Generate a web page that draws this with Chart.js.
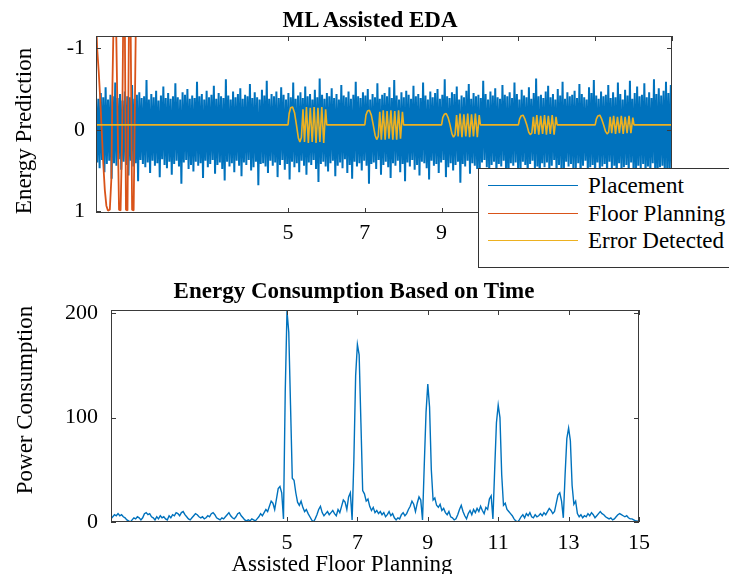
<!DOCTYPE html>
<html>
<head>
<meta charset="utf-8">
<script src="https://cdn.jsdelivr.net/npm/chart.js@4.4.1/dist/chart.umd.min.js"></script>
<style>
  body { margin: 0; background: #fff; overflow: hidden; }
  #wrap { position: relative; width: 729px; height: 574px; overflow: hidden; font-family: 'Liberation Serif', 'Times New Roman', serif; color: #000; }
  canvas { position: absolute; left: 0; top: 0; }
  .txt { position: absolute; white-space: nowrap; line-height: 1; transform: translate(-50%, -50%); }
  .ttl { font-weight: bold; font-size: 23px; }
  .lbl { font-size: 23px; }
  .rot { transform: translate(-50%, -50%) rotate(-90deg); }
  #legend { position: absolute; left: 478px; top: 168px; width: 270px; height: 100px; background: #fff; border: 1px solid #333; box-sizing: border-box; }
  .lg-row { position: absolute; left: 0; height: 24px; width: 100%; }
  .lg-line { position: absolute; left: 9px; top: 11px; width: 90px; height: 0; border-top: 1.5px solid; }
  .lg-text { position: absolute; left: 109px; top: 0; font-size: 23px; line-height: 24px; white-space: nowrap; }
</style>
</head>
<body>
<div id="wrap">
  <canvas id="chartTop" width="729" height="574"></canvas>
  <canvas id="chartBottom" width="729" height="574"></canvas>
  <div class="txt ttl" style="left:370px; top:19px;">ML Assisted EDA</div>
  <div class="txt lbl rot" style="left:23px; top:131px;">Energy Prediction</div>
  <div class="txt ttl" style="left:354px; top:290px;">Energy Consumption Based on Time</div>
  <div class="txt lbl rot" style="left:24px; top:400px;">Power Consumption</div>
  <div class="txt lbl" style="left:342px; top:563px;">Assisted Floor Planning</div>
  <div id="legend"></div>
</div>
<script>
// ---- top panel: ML Assisted EDA ----
const seriesNames = ["Placement", "Floor Planning", "Error Detected"];
const seriesColors = ["#0072BD", "#D95319", "#EDB120"];

// placement signal, alternating upper / lower samples
const placementUp = [
  -0.42,-0.38,-0.45,-0.40,-0.52,-0.37,-0.43,-0.41,-0.58,-0.39,
  -0.44,-0.36,-0.47,-0.41,-0.40,-0.55,-0.38,-0.43,-0.46,-0.39,
  -0.41,-0.61,-0.37,-0.44,-0.40,-0.48,-0.36,-0.42,-0.53,-0.39,
  -0.45,-0.38,-0.41,-0.57,-0.40,-0.37,-0.46,-0.43,-0.50,-0.38,
  -0.42,-0.39,-0.59,-0.41,-0.44,-0.37,-0.48,-0.40,-0.43,-0.54,
  -0.38,-0.45,-0.41,-0.39,-0.62,-0.42,-0.37,-0.47,-0.40,-0.44,
  -0.51,-0.38,-0.43,-0.41,-0.56,-0.39,-0.46,-0.40,-0.37,-0.49,
  -0.42,-0.60,-0.38,-0.44,-0.41,-0.47,-0.39,-0.52,-0.43,-0.37,
  -0.45,-0.40,-0.58,-0.38,-0.42,-0.46,-0.39,-0.53,-0.41,-0.44,
  -0.37,-0.49,-0.40,-0.63,-0.43,-0.38,-0.45,-0.41,-0.51,-0.39,
  -0.44,-0.37,-0.55,-0.42,-0.40,-0.47,-0.38,-0.43,-0.59,-0.41,
  -0.39,-0.46,-0.42,-0.50,-0.37,-0.44,-0.40,-0.57,-0.38,-0.43,
  -0.45,-0.41,-0.52,-0.39,-0.61,-0.42,-0.37,-0.46,-0.40,-0.48,
  -0.43,-0.38,-0.54,-0.41,-0.44,-0.39,-0.58,-0.42,-0.37,-0.47,
  -0.40,-0.45,-0.50,-0.38,-0.43,-0.62,-0.41,-0.39,-0.46,-0.44,
  -0.53,-0.37,-0.42,-0.40,-0.48,-0.56,-0.38,-0.45,-0.41,-0.43,
  -0.39,-0.60,-0.44,-0.37,-0.47,-0.42,-0.51,-0.40,-0.38,-0.55,
  -0.43,-0.41,-0.46,-0.39,-0.58,-0.44,-0.37,-0.49,-0.42,-0.40,
  -0.52,-0.38,-0.45,-0.63,-0.41,-0.43,-0.39,-0.47,-0.54,-0.40,
  -0.44,-0.37,-0.50,-0.42,-0.59,-0.38,-0.46,-0.41,-0.43,-0.48,
  -0.39,-0.56,-0.44,-0.40,-0.37,-0.52,-0.45,-0.61,-0.42,-0.38,
  -0.47,-0.41,-0.43,-0.55,-0.39,-0.46,-0.40,-0.58,-0.44,-0.37,
  -0.49,-0.42,-0.60,-0.38,-0.45,-0.53,-0.41,-0.43,-0.57,-0.40,
  -0.46,-0.39,-0.62,-0.44,-0.51,-0.42,-0.48,-0.59,-0.45,-0.55
];
const placementDown = [
  0.40,0.47,0.37,0.52,0.42,0.38,0.60,0.41,0.44,0.36,
  0.49,0.39,0.43,0.56,0.38,0.45,0.41,0.63,0.37,0.42,
  0.46,0.40,0.53,0.38,0.44,0.41,0.58,0.36,0.43,0.47,
  0.39,0.55,0.42,0.38,0.45,0.66,0.40,0.37,0.48,0.43,
  0.51,0.39,0.44,0.41,0.59,0.38,0.46,0.42,0.37,0.54,
  0.43,0.40,0.48,0.62,0.39,0.45,0.41,0.52,0.38,0.44,
  0.57,0.40,0.43,0.37,0.50,0.46,0.39,0.68,0.42,0.41,
  0.45,0.53,0.38,0.44,0.40,0.58,0.43,0.37,0.49,0.42,
  0.61,0.39,0.46,0.41,0.52,0.38,0.44,0.55,0.40,0.43,
  0.37,0.48,0.64,0.42,0.39,0.45,0.51,0.41,0.38,0.57,
  0.44,0.40,0.47,0.36,0.53,0.43,0.60,0.39,0.45,0.41,
  0.50,0.38,0.44,0.66,0.42,0.40,0.48,0.37,0.55,0.43,
  0.39,0.46,0.59,0.41,0.44,0.38,0.52,0.42,0.63,0.40,
  0.45,0.37,0.49,0.43,0.56,0.39,0.41,0.47,0.61,0.38,
  0.44,0.42,0.53,0.40,0.37,0.58,0.46,0.41,0.50,0.43,
  0.39,0.65,0.42,0.45,0.38,0.54,0.41,0.44,0.48,0.60,
  0.40,0.37,0.46,0.52,0.43,0.39,0.57,0.42,0.45,0.38,
  0.51,0.62,0.41,0.44,0.40,0.47,0.55,0.39,0.43,0.58,
  0.42,0.38,0.49,0.45,0.64,0.41,0.46,0.40,0.53,0.44,
  0.37,0.56,0.43,0.48,0.60,0.39,0.45,0.42,0.51,0.47,
  0.41,0.59,0.44,0.38,0.54,0.46,0.43,0.62,0.40,0.49,
  0.45,0.42,0.57,0.39,0.48,0.44,0.66,0.41,0.52,0.46,
  0.43,0.55,0.40,0.50,0.61,0.44,0.47,0.42,0.58,0.45,
  0.53,0.41,0.49,0.63,0.46,0.44,0.56,0.48,0.60,0.52
];

// floor planning sweep at the start
const floorX = [0, 0.03, 0.07, 0.11, 0.15, 0.19, 0.23, 0.27, 0.31, 0.36, 0.40, 0.43, 0.46, 0.52, 0.57, 0.60, 0.64, 0.68, 0.71, 0.75, 0.78, 0.82, 0.86, 0.90, 0.94, 0.98, 1.04];
const floorY = [-1.4, -1.0, -0.72, -0.38, 0.02, 0.42, 0.74, 0.93, 0.99, 0.98, 0.6, -0.6, -1.4, -1.4, 0.1, 0.98, 0.99, 0.1, -1.4, -1.4, 0.98, 0.99, -1.4, -1.4, 0.98, 0.99, -1.4];

// error detected bursts
const errorBase = -0.06;
const burstStarts = [5, 7, 9, 11, 13];
const burstOffsets = [0, 0.03, 0.07, 0.12, 0.17, 0.22, 0.27, 0.31, 0.35, 0.39, 0.43, 0.48, 0.53, 0.58, 0.63, 0.68, 0.73, 0.78, 0.83, 0.88, 0.93, 0.98, 1.01];
const burst5 = [-0.06, -0.2, -0.27, -0.28, -0.21, -0.06, 0.1, 0.15, 0.09, -0.25, 0.15, -0.28, 0.16, -0.27, 0.15, -0.28, 0.16, -0.27, 0.15, -0.28, 0.16, -0.25, -0.06];
const burst7 = [-0.06, -0.18, -0.23, -0.24, -0.18, -0.06, 0.07, 0.12, 0.08, -0.22, 0.12, -0.24, 0.12, -0.23, 0.11, -0.24, 0.12, -0.23, 0.12, -0.24, 0.11, -0.22, -0.06];
const burst9 = [-0.06, -0.15, -0.19, -0.2, -0.15, -0.06, 0.05, 0.09, 0.06, -0.18, 0.08, -0.2, 0.09, -0.19, 0.08, -0.2, 0.09, -0.19, 0.08, -0.2, 0.09, -0.18, -0.06];
const burst11 = [-0.06, -0.13, -0.17, -0.18, -0.13, -0.06, 0.03, 0.06, 0.04, -0.16, 0.05, -0.18, 0.06, -0.17, 0.05, -0.18, 0.06, -0.17, 0.05, -0.18, 0.06, -0.16, -0.06];
const burst13 = [-0.06, -0.13, -0.17, -0.18, -0.13, -0.06, 0.02, 0.05, 0.03, -0.16, 0.04, -0.17, 0.05, -0.16, 0.04, -0.17, 0.05, -0.16, 0.04, -0.17, 0.04, -0.15, -0.06];

const topTicksX = [5, 7, 9, 11, 13, 15];
const topTicksY = [-1, 0, 1];

// ---- bottom panel: Energy Consumption Based on Time ----
const powerStep = 0.05;
const powerValues = [
  3,5,7,6,8,6,7,5,4,2,1,0,2,4,3,5,4,2,4,8,
  9,7,8,5,4,2,5,3,6,4,5,3,2,6,4,7,6,9,8,6,
  9,10,7,5,3,2,4,6,8,7,5,4,5,3,4,6,5,8,9,7,
  4,3,2,4,3,5,7,9,6,4,3,5,8,9,6,4,2,1,2,1,
  3,2,1,3,5,8,6,9,12,10,15,20,18,12,22,32,34,28,3,125,
  202,182,112,42,40,28,19,16,20,14,10,12,8,5,2,0,3,7,12,15,
  9,6,8,10,7,9,11,8,6,12,9,15,21,19,12,24,28,2,60,140,
  170,160,95,30,27,20,22,15,11,14,9,11,8,10,7,9,5,7,10,6,
  8,4,2,4,3,7,9,6,8,12,15,20,17,10,18,24,21,2,55,105,
  132,110,50,21,23,16,14,17,11,13,9,7,10,5,4,2,3,7,12,16,
  10,6,3,8,11,7,12,9,13,10,15,11,8,14,12,22,25,3,50,95,
  112,100,45,16,18,12,10,8,6,3,1,0,2,5,7,4,8,6,9,5,
  4,7,5,6,8,6,9,7,10,13,11,8,10,18,26,28,20,4,45,80,
  90,78,35,17,20,8,5,7,4,6,5,8,6,9,7,4,6,8,10,8,
  7,5,4,3,4,2,3,5,7,8,7,6,5,6,4,3,3,2,1,1,
  0
];
const bottomTicksX = [5, 7, 9, 11, 13, 15];
const bottomTicksY = [0, 100, 200];

// build point lists
const placementPoints = [];
const nPlace = placementUp.length * 2;
placementUp.forEach((v, i) => {
  placementPoints.push({ x: (2 * i) * 15 / (nPlace - 1), y: v });
  placementPoints.push({ x: (2 * i + 1) * 15 / (nPlace - 1), y: placementDown[i] });
});
const floorPoints = floorX.map((x, i) => ({ x: x, y: floorY[i] }));
const bursts = [burst5, burst7, burst9, burst11, burst13];
const errorPoints = [{ x: 0, y: errorBase }];
burstStarts.forEach((s, b) => {
  burstOffsets.forEach((o, i) => errorPoints.push({ x: s + o, y: bursts[b][i] }));
});
errorPoints.push({ x: 15, y: errorBase });
const powerPoints = powerValues.map((v, i) => ({ x: i * powerStep, y: v }));

const tickFont = { family: "'Liberation Serif', 'Times New Roman', serif", size: 22 };

// matlab style box with inward ticks
const boxPlugin = {
  id: 'matlabBox',
  afterDatasetsDraw(chart) {
    const { ctx, chartArea: a, scales: { x, y } } = chart;
    ctx.save();
    ctx.strokeStyle = '#3a3a3a';
    ctx.lineWidth = 1;
    ctx.strokeRect(a.left + 0.5, a.top + 0.5, a.width - 1, a.height - 1);
    ctx.beginPath();
    x.ticks.forEach(t => {
      const px = Math.round(x.getPixelForValue(t.value)) + 0.5;
      ctx.moveTo(px, a.bottom); ctx.lineTo(px, a.bottom - 5);
      ctx.moveTo(px, a.top); ctx.lineTo(px, a.top + 5);
    });
    y.ticks.forEach(t => {
      const py = Math.round(y.getPixelForValue(t.value)) + 0.5;
      ctx.moveTo(a.left, py); ctx.lineTo(a.left + 5, py);
      ctx.moveTo(a.right, py); ctx.lineTo(a.right - 5, py);
    });
    ctx.stroke();
    ctx.restore();
  }
};

function axis(min, max, ticks, pad, fit, extra) {
  return Object.assign({
    type: 'linear', min: min, max: max,
    grid: { display: false, drawTicks: false },
    border: { display: false },
    afterBuildTicks: s => { s.ticks = ticks.map(v => ({ value: v })); },
    afterFit: fit,
    ticks: { font: tickFont, color: '#000', padding: pad, autoSkip: false, maxRotation: 0, callback: v => String(v) }
  }, extra || {});
}

new Chart(document.getElementById('chartTop'), {
  type: 'line',
  data: {
    datasets: [
      { label: seriesNames[0], data: placementPoints, borderColor: seriesColors[0], borderWidth: 2, order: 3 },
      { label: seriesNames[1], data: floorPoints, borderColor: seriesColors[1], borderWidth: 1.8, order: 2 },
      { label: seriesNames[2], data: errorPoints, borderColor: seriesColors[2], borderWidth: 1.6, order: 1 }
    ]
  },
  options: {
    responsive: false,
    animation: false,
    elements: { point: { radius: 0 }, line: { tension: 0, borderJoinStyle: 'bevel' } },
    layout: { padding: { left: 0, right: 57, top: 36, bottom: 321 } },
    plugins: { legend: { display: false }, tooltip: { enabled: false } },
    scales: {
      x: axis(0, 15, topTicksX, 7, s => { s.height = 40; }),
      y: axis(-1.15, 1.02, topTicksY, 11, s => { s.width = 96; }, { reverse: true })
    }
  },
  plugins: [boxPlugin]
});

new Chart(document.getElementById('chartBottom'), {
  type: 'line',
  data: {
    datasets: [
      { label: 'Power Consumption', data: powerPoints, borderColor: seriesColors[0], borderWidth: 1.4 }
    ]
  },
  options: {
    responsive: false,
    animation: false,
    elements: { point: { radius: 0 }, line: { tension: 0 } },
    layout: { padding: { left: 0, right: 90, top: 310, bottom: 12 } },
    plugins: { legend: { display: false }, tooltip: { enabled: false } },
    scales: {
      x: axis(0, 15, bottomTicksX, 8, s => { s.height = 40; }),
      y: axis(0, 203, bottomTicksY, 13, s => { s.width = 111; })
    }
  },
  plugins: [boxPlugin]
});

// legend box
const legend = document.getElementById('legend');
const rowTops = [5, 33, 60];
seriesNames.forEach((name, i) => {
  const row = document.createElement('div');
  row.className = 'lg-row';
  row.style.top = rowTops[i] + 'px';
  row.innerHTML = '<div class="lg-line" style="border-color:' + seriesColors[i] + '"></div><div class="lg-text">' + name + '</div>';
  legend.appendChild(row);
});
</script>
</body>
</html>
